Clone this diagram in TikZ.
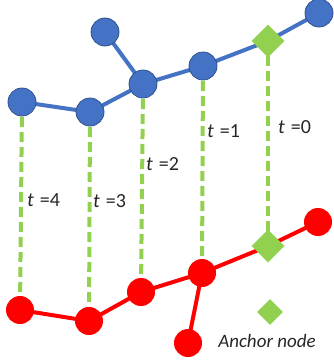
\documentclass[tikz,border=0pt]{standalone}
\usepackage{fontspec}
\setmainfont{Carlito}
\usetikzlibrary{shapes.geometric}
\definecolor{nblue}{HTML}{4472C4}
\definecolor{nblueb}{HTML}{2F528F}
\definecolor{ngreen}{HTML}{92D050}
\definecolor{nred}{HTML}{FF0000}
\begin{document}
\begin{tikzpicture}[x=1pt,y=-1pt,
  bnode/.style={circle,fill=nblue,draw=nblueb,line width=0.8pt,minimum size=28pt,inner sep=0pt},
  rnode/.style={circle,fill=nred,minimum size=28pt,inner sep=0pt},
  anchornode/.style={diamond,fill=ngreen,minimum width=33pt,minimum height=33pt,inner sep=0pt},
  bedge/.style={draw=nblue,line width=4pt},
  redge/.style={draw=nred,line width=4pt},
  tdash/.style={draw=ngreen,line width=4pt,dash pattern=on 10pt off 5pt},
  tlabel/.style={font=\fontsize{20}{21}\selectfont,anchor=west,inner sep=0pt,text=black!85}
]
\useasboundingbox (0,0) rectangle (333,364);
% coordinates for nodes
\coordinate (b4c) at (22,102);
\coordinate (b3c) at (90,112);
\coordinate (b2c) at (143,84);
\coordinate (btc) at (105,32);
\coordinate (b1c) at (203,66);
\coordinate (bac) at (268,41);
\coordinate (bec) at (319,13);
\coordinate (r4c) at (20,310);
\coordinate (r3c) at (89,321);
\coordinate (r2c) at (141,292);
\coordinate (r1c) at (202,273);
\coordinate (rbc) at (188,343);
\coordinate (rac) at (268,246);
\coordinate (rec) at (318,222);
% dashed correspondences
\draw[tdash] (b4c) -- (r4c);
\draw[tdash] (b3c) -- (r3c);
\draw[tdash] (b2c) -- (r2c);
\draw[tdash] (b1c) -- (r1c);
\draw[tdash] (bac) -- (rac);
% edges
\draw[bedge] (b4c) -- (b3c) -- (b2c) -- (b1c) -- (bac) -- (bec);
\draw[bedge] (b2c) -- (btc);
\draw[redge] (r4c) -- (r3c) -- (r2c) -- (r1c) -- (rac) -- (rec);
\draw[redge] (r1c) -- (rbc);
% nodes
\node[bnode] (b4) at (b4c) {};
\node[bnode] (b3) at (b3c) {};
\node[bnode] (b2) at (b2c) {};
\node[bnode] (bt) at (btc) {};
\node[bnode] (b1) at (b1c) {};
\node[anchornode] (ba) at (bac) {};
\node[bnode] (be) at (bec) {};
\node[rnode] (r4) at (r4c) {};
\node[rnode] (r3) at (r3c) {};
\node[rnode] (r2) at (r2c) {};
\node[rnode] (r1) at (r1c) {};
\node[rnode] (rb) at (rbc) {};
\node[anchornode] (ra) at (rac) {};
\node[rnode] (re) at (rec) {};
% labels
\node[tlabel] (t4) at (27,200) {\textit{t}\hspace{1.5pt} =4};
\node[tlabel] (t3) at (93,201) {\textit{t}\hspace{1.5pt} =3};
\node[tlabel] (t2) at (146,164) {\textit{t}\hspace{1.5pt} =2};
\node[tlabel] (t1) at (207,131) {\textit{t}\hspace{1.5pt} =1};
\node[tlabel] (t0) at (278,127) {\textit{t}\hspace{1.5pt} =0};
% legend
\node[anchornode,minimum width=26pt,minimum height=26pt] (leg) at (270,312) {};
\node[font=\fontsize{19}{20}\selectfont\itshape,text=black!85,inner sep=0pt] (legt) at (267,341) {Anchor node};
\end{tikzpicture}
\end{document}
